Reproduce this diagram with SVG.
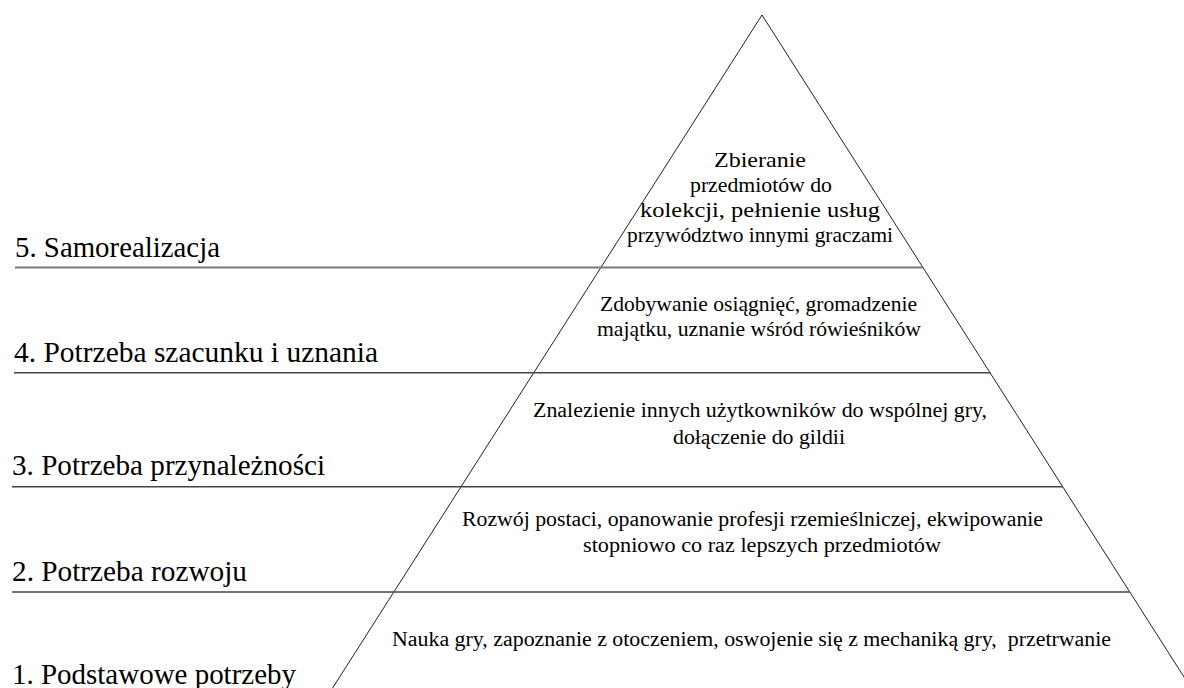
<svg xmlns="http://www.w3.org/2000/svg" width="1184" height="688" viewBox="0 0 1184 688">
<style>
.lbl{font-size:29px}
.txt{font-size:21px}
.sm{font-size:20px}
.edge{stroke:#222;stroke-width:1;fill:none}
.div{stroke:#444;stroke-width:1.4;fill:none}
</style>
<rect width="1184" height="688" fill="#fff"/>
<g id="connectors">
<line class="edge" x1="762" y1="15" x2="332.6" y2="688"/>
<line class="edge" x1="762" y1="15" x2="1191" y2="688"/>
<line class="div" x1="15" y1="267.5" x2="923.4" y2="267.5" style="stroke:#777;stroke-width:1.8"/>
<line class="div" x1="14" y1="372.7" x2="990.5" y2="372.7"/>
<line class="div" x1="12" y1="486.7" x2="1063" y2="486.7"/>
<line class="div" x1="12" y1="592" x2="1130" y2="592"/>
</g>
<g font-family="Liberation Serif, DejaVu Serif, serif" fill="#000">
<g id="level5">
<text class="lbl" x="15" y="256.7" textLength="205" lengthAdjust="spacingAndGlyphs">5. Samorealizacja</text>
<text class="txt" x="714" y="167" textLength="92" lengthAdjust="spacingAndGlyphs">Zbieranie</text>
<text class="txt" x="690" y="192" textLength="142" lengthAdjust="spacingAndGlyphs">przedmiotów do</text>
<text class="txt" x="640" y="217" textLength="240" lengthAdjust="spacingAndGlyphs">kolekcji, pełnienie usług</text>
<text class="txt" x="627" y="242" textLength="266" lengthAdjust="spacingAndGlyphs">przywództwo innymi graczami</text>
</g>
<g id="level4">
<text class="lbl" x="14" y="361.7" textLength="364" lengthAdjust="spacingAndGlyphs">4. Potrzeba szacunku i uznania</text>
<text class="txt" x="600" y="311" textLength="317" lengthAdjust="spacingAndGlyphs">Zdobywanie osiągnięć, gromadzenie</text>
<text class="txt" x="597" y="336" textLength="324" lengthAdjust="spacingAndGlyphs">majątku, uznanie wśród rówieśników</text>
</g>
<g id="level3">
<text class="lbl" x="12" y="475" textLength="313" lengthAdjust="spacingAndGlyphs">3. Potrzeba przynależności</text>
<text class="txt sm" x="533" y="417" textLength="454" lengthAdjust="spacingAndGlyphs">Znalezienie innych użytkowników do wspólnej gry,</text>
<text class="txt sm" x="673" y="444" textLength="172" lengthAdjust="spacingAndGlyphs">dołączenie do gildii</text>
</g>
<g id="level2">
<text class="lbl" x="12" y="580.7" textLength="235" lengthAdjust="spacingAndGlyphs">2. Potrzeba rozwoju</text>
<text class="txt sm" x="462" y="526" textLength="581" lengthAdjust="spacingAndGlyphs">Rozwój postaci, opanowanie profesji rzemieślniczej, ekwipowanie</text>
<text class="txt sm" x="583" y="552" textLength="358" lengthAdjust="spacingAndGlyphs">stopniowo co raz lepszych przedmiotów</text>
</g>
<g id="level1">
<text class="lbl" x="12" y="684" textLength="284" lengthAdjust="spacingAndGlyphs">1. Podstawowe potrzeby</text>
<text class="txt sm" x="392" y="646" textLength="719" lengthAdjust="spacingAndGlyphs" xml:space="preserve">Nauka gry, zapoznanie z otoczeniem, oswojenie się z mechaniką gry,  przetrwanie</text>
</g>
</g>
</svg>
